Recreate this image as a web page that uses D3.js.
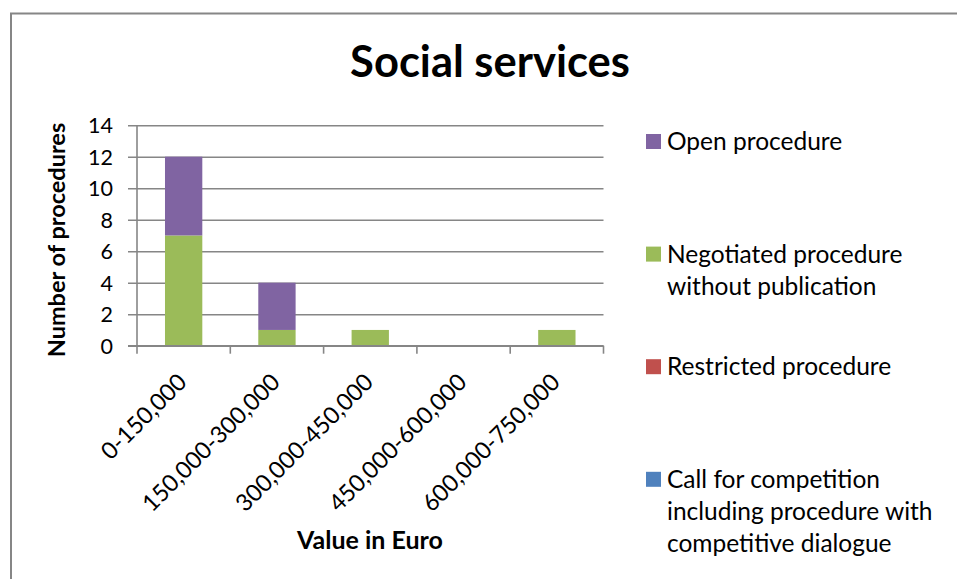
<!DOCTYPE html>
<html>
<head>
<meta charset="utf-8">
<script src="https://cdn.jsdelivr.net/npm/d3@7"></script>
<style>
  html, body { margin: 0; padding: 0; background: #fff; }
  svg { display: block; font-family: Lato, "Open Sans", sans-serif; }
</style>
</head>
<body>
<svg id="chart" width="957" height="579"></svg>
<script>
// ---- data ----
const categories = ["0-150,000", "150,000-300,000", "300,000-450,000", "450,000-600,000", "600,000-750,000"];
const callForCompetition = [0, 0, 0, 0, 0];
const restricted = [0, 0, 0, 0, 0];
const negotiated = [7, 1, 1, 0, 1];
const openProcedure = [5, 3, 0, 0, 0];
const yTicks = [0, 2, 4, 6, 8, 10, 12, 14];
const legendLines = [
  ["Open procedure"],
  ["Negotiated procedure", "without publication"],
  ["Restricted procedure"],
  ["Call for competition", "including procedure with", "competitive dialogue"]
];
const legendColors = ["#8064A2", "#9BBB59", "#C0504D", "#4F81BD"];
const seriesColors = ["#4F81BD", "#C0504D", "#9BBB59", "#8064A2"];
const title = "Social services";
const xTitle = "Value in Euro";
const yTitle = "Number of procedures";

// ---- build table ----
const keys = ["call", "restricted", "negotiated", "open"];
const table = categories.map((c, i) => ({
  cat: c, call: callForCompetition[i], restricted: restricted[i],
  negotiated: negotiated[i], open: openProcedure[i]
}));

const svg = d3.select("#chart");
const gridColor = "#868686";

// outer border
svg.append("rect").attr("x", 11).attr("y", 13.5).attr("width", 960).attr("height", 600)
  .attr("fill", "none").attr("stroke", gridColor).attr("stroke-width", 2);

const plot = { left: 137, right: 603.5, top: 125.2, bottom: 345.7 };

const x = d3.scaleBand().domain(categories).range([plot.left, plot.right])
  .paddingInner(0.6).paddingOuter(0.3);
const xEdge = d3.scaleLinear().domain([0, categories.length]).range([plot.left, plot.right]);
const y = d3.scaleLinear().domain([0, 14]).range([plot.bottom, plot.top]);

// gridlines + y ticks
const yAxis = d3.axisLeft(y).tickValues(yTicks).tickSize(-(plot.right - plot.left)).tickSizeOuter(0).tickPadding(0);
const gy = svg.append("g").attr("transform", `translate(${plot.left},0)`).call(yAxis);
gy.select(".domain").remove();
gy.selectAll(".tick line").attr("stroke", gridColor).attr("stroke-width", 1.6).attr("x1", -9);
gy.selectAll(".tick text").attr("x", -24).attr("dy", "0.35em")
  .attr("font-size", 21.5).attr("fill", "#000").attr("font-family", "Lato");

// stacked bars
const stack = d3.stack().keys(keys)(table);
svg.append("g").selectAll("g").data(stack).join("g")
  .attr("fill", (d, i) => seriesColors[i])
  .selectAll("rect").data(d => d).join("rect")
  .attr("x", d => x(d.data.cat))
  .attr("width", x.bandwidth())
  .attr("y", d => y(d[1]))
  .attr("height", d => y(d[0]) - y(d[1]));

// y axis line
svg.append("line").attr("x1", plot.left).attr("x2", plot.left)
  .attr("y1", plot.top).attr("y2", plot.bottom)
  .attr("stroke", gridColor).attr("stroke-width", 1.6);

// x axis line + ticks at category edges
svg.append("line").attr("x1", plot.left - 9).attr("x2", plot.right)
  .attr("y1", plot.bottom).attr("y2", plot.bottom)
  .attr("stroke", gridColor).attr("stroke-width", 1.6);
svg.append("g").selectAll("line").data(d3.range(categories.length + 1)).join("line")
  .attr("x1", d => xEdge(d)).attr("x2", d => xEdge(d))
  .attr("y1", plot.bottom).attr("y2", plot.bottom + 8)
  .attr("stroke", gridColor).attr("stroke-width", 1.6);

// x tick labels
svg.append("g").selectAll("text").data(categories).join("text")
  .attr("transform", d => `translate(${x(d) + x.bandwidth() / 2 + 4.5},${plot.bottom + 38}) rotate(-45)`)
  .attr("text-anchor", "end")
  .attr("font-size", 23.5)
  .text(d => d);

// title
svg.append("text").attr("x", 490).attr("y", 77).attr("text-anchor", "middle")
  .attr("font-size", 43.5).attr("font-weight", "bold").text(title);

// axis titles
svg.append("text").attr("x", 370).attr("y", 549).attr("text-anchor", "middle")
  .attr("font-size", 25).attr("font-weight", "bold").text(xTitle);
svg.append("text").attr("transform", "translate(65,240) rotate(-90)").attr("text-anchor", "middle")
  .attr("font-size", 23.5).attr("font-weight", "bold").text(yTitle);

// legend
const lg = svg.append("g");
legendLines.forEach((lines, i) => {
  const base = 150 + i * 112.6;
  lg.append("rect").attr("x", 646).attr("y", base - 16).attr("width", 15).attr("height", 15)
    .attr("fill", legendColors[i]);
  lines.forEach((t, j) => {
    lg.append("text").attr("x", 667).attr("y", base + j * 32.3)
      .attr("font-size", 24.5).text(t);
  });
});
</script>
</body>
</html>
